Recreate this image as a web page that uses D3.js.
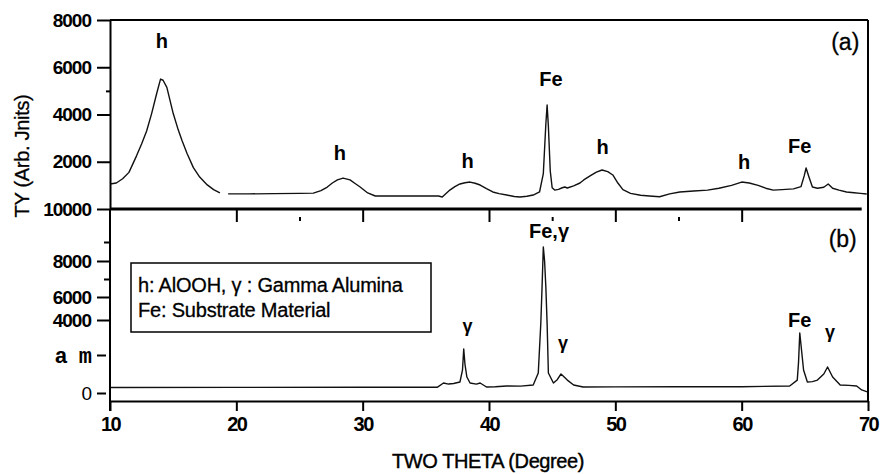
<!DOCTYPE html>
<html>
<head>
<meta charset="utf-8">
<script src="https://cdn.jsdelivr.net/npm/d3@7"></script>
<style>
  body { margin: 0; background: #fff; }
  svg { display: block; }
</style>
</head>
<body>
<svg id="chart"></svg>
<script>
// two theta (deg), intensity (arb. units)
// panel (a): first part stops at ~18.7 deg, then restarts
var topSeg1 = [[10.0,1060],[10.5,1100],[11.0,1280],[11.5,1550],[12.1,2250],[12.5,2750],[12.9,3300],[13.3,4050],
  [13.7,4900],[14.0,5500],[14.2,5450],[14.5,5150],[15.0,4050],[15.4,3350],[15.7,2900],[16.1,2350],[16.6,1750],
  [17.1,1350],[17.7,1020],[18.2,820],[18.7,680]];
var topSeg2 = [[19.35,640],[21.0,640],[23.0,650],[25.0,660],[26.1,670],[26.7,780],[27.2,930],[27.6,1100],[28.0,1230],
  [28.45,1310],[29.0,1230],[29.4,1080],[29.8,930],[30.4,680],[31.0,550],[33.0,550],[35.0,550],[36.0,550],[36.3,510],
  [36.9,800],[37.3,950],[37.7,1060],[38.1,1110],[38.5,1140],[38.9,1090],[39.3,1015],[39.8,860],[40.3,720],
  [40.8,650],[41.4,590],[42.0,530],[42.45,510],[43.0,540],[43.5,590],[44.0,720],[44.3,1500],[44.5,3600],[44.6,4400],
  [44.7,3500],[44.85,1600],[45.0,900],[45.2,800],[45.5,830],[45.8,900],[46.0,930],[46.2,890],[46.7,980],[47.2,1100],
  [47.5,1230],[48.0,1400],[48.5,1560],[48.95,1650],[49.4,1580],[49.8,1440],[50.2,1100],[50.6,820],[51.2,660],
  [52.0,580],[52.7,550],[53.5,520],[54.3,640],[55.1,720],[56.2,760],[57.3,800],[58.2,880],[59.2,1000],[60.0,1140],
  [60.6,1100],[61.3,1000],[61.9,880],[62.5,800],[63.2,820],[64.1,850],[64.7,950],[64.95,1400],[65.1,1735],
  [65.3,1400],[65.6,930],[66.0,880],[66.5,920],[66.85,1060],[67.2,880],[67.7,800],[68.3,720],[68.9,690],
  [69.4,660],[69.9,635]];
// panel (b)
var botTrace = [[10.0,290],[20.0,295],[30.0,300],[35.9,300],[36.4,525],[36.8,470],[37.2,500],[37.7,580],[37.9,1200],
  [38.0,2340],[38.1,1500],[38.25,840],[38.5,525],[39.0,470],[39.3,525],[39.8,315],[40.5,330],[41.4,370],[42.5,360],
  [43.5,420],[43.9,1050],[44.1,3800],[44.2,6560],[44.3,8740],[44.4,8000],[44.5,6560],[44.6,3800],[44.7,1050],
  [45.1,525],[45.4,700],[45.7,1000],[46.2,680],[46.7,420],[47.45,315],[50.0,320],[55.0,330],[60.0,330],[63.8,370],
  [64.4,680],[64.5,1600],[64.6,3256],[64.75,2200],[64.9,1210],[65.2,580],[65.6,600],[66.0,680],[66.5,1000],
  [66.8,1370],[67.2,840],[67.8,420],[68.5,400],[69.1,370],[69.5,160],[70.0,50]];

var xTicks = [10, 20, 30, 40, 50, 60, 70];
var topYTicks = [2000, 4000, 6000, 8000];
var botYTicks = [0, 2000, 4000, 6000, 8000, 10000];
var botYTickLabels = ["0", "a m", "4000", "6000", "8000", "10000"];

var topPeaks = [
  { t: "h", x: 14.1, v: 6815 }, { t: "h", x: 28.2, v: 2074 }, { t: "h", x: 38.3, v: 1736 },
  { t: "Fe", x: 44.9, v: 5207 }, { t: "h", x: 49.0, v: 2328 }, { t: "h", x: 60.2, v: 1693 },
  { t: "Fe", x: 64.6, v: 2370 }
];
var botPeaks = [
  { t: "Fe,\u03b3", x: 44.75, v: 9121 }, { t: "\u03b3", x: 38.3, v: 3314 }, { t: "\u03b3", x: 45.85, v: 2343 },
  { t: "Fe", x: 64.6, v: 3600 }, { t: "\u03b3", x: 67.0, v: 2970 }
];
var legendLines = ["h: AlOOH, \u03b3 : Gamma Alumina", "Fe: Substrate Material"];

var width = 882, height = 474;
var svg = d3.select("#chart").attr("width", width).attr("height", height);
svg.append("rect").attr("width", width).attr("height", height).attr("fill", "#fff");

var sans = "'Liberation Sans', Arial, sans-serif";

var x = d3.scaleLinear().domain([10, 70]).range([110, 868]);
var yTop = d3.scaleLinear().domain([0, 8000]).range([209, 20]);
// the scanned lower axis is not evenly spaced, so follow its tick positions
var yBot = d3.scaleLinear()
  .domain([0, 2000, 4000, 6000, 8000, 9000, 10000])
  .range([393, 355, 320, 297, 261, 242, 209]);
var xAxisY = 401;

var line = d3.line().x(d => x(d[0]));

// traces
svg.append("g")
  .attr("fill", "none")
  .attr("stroke", "#111")
  .attr("stroke-width", 1.4)
  .attr("stroke-linejoin", "round")
  .selectAll("path")
  .data([[topSeg1, yTop], [topSeg2, yTop], [botTrace, yBot]])
  .join("path")
  .attr("d", d => line.y(p => d[1](p[1]))(d[0]));

// frame
var frame = svg.append("g").attr("stroke", "#000").attr("fill", "none");
frame.append("line").attr("x1", x(10)).attr("x2", x(70)).attr("y1", yTop(8000)).attr("y2", yTop(8000)).attr("stroke-width", 2);
frame.append("line").attr("x1", x(70)).attr("x2", x(70)).attr("y1", yTop(8000)).attr("y2", xAxisY).attr("stroke-width", 2);
frame.append("line").attr("x1", x(10)).attr("x2", x(69.5)).attr("y1", yTop(0)).attr("y2", yTop(0)).attr("stroke-width", 3);

// x axis (bottom)
var xAxis = svg.append("g")
  .attr("transform", "translate(0," + xAxisY + ")")
  .call(d3.axisBottom(x).tickValues(xTicks).tickSize(10).tickSizeOuter(0).tickPadding(6));
xAxis.select(".domain").attr("stroke-width", 2);
xAxis.selectAll("text")
  .attr("font-family", sans).attr("font-size", 20).attr("font-weight", "bold")
  .attr("letter-spacing", -1.5).attr("fill", "#000");

// ticks on the middle line of panel (a)
var midAxis = svg.append("g")
  .attr("transform", "translate(0," + (yTop(0) + 1) + ")")
  .call(d3.axisBottom(x).tickValues([20, 30, 40, 50, 60]).tickSize(12).tickFormat(""));
midAxis.select(".domain").remove();
var midMinor = svg.append("g")
  .attr("transform", "translate(0," + (yTop(0) + 8) + ")")
  .call(d3.axisBottom(x).tickValues([25, 45, 55]).tickSize(4).tickFormat(""));
midMinor.select(".domain").remove();

// y axis panel (a)
var yAxisTop = svg.append("g")
  .attr("transform", "translate(" + x(10) + ",0)")
  .call(d3.axisLeft(yTop).tickValues(topYTicks).tickSize(13).tickPadding(6).tickSizeOuter(0)
    .tickFormat(d3.format("d")));
yAxisTop.select(".domain").attr("stroke-width", 2);
var yTopMinor = svg.append("g")
  .attr("transform", "translate(" + x(10) + ",0)")
  .call(d3.axisLeft(yTop).tickValues([5000]).tickSize(4).tickFormat(""));
yTopMinor.select(".domain").remove();

// y axis panel (b)
var yAxisBot = svg.append("g")
  .attr("transform", "translate(" + x(10) + ",0)")
  .call(d3.axisLeft(yBot).tickValues(botYTicks).tickSize(13).tickPadding(6).tickSizeOuter(0)
    .tickFormat((d, i) => botYTickLabels[i]));
yAxisBot.select(".domain").attr("d", "M0," + yTop(0) + "V" + (xAxisY + 10)).attr("stroke-width", 2);
var yBotMinor = svg.append("g")
  .attr("transform", "translate(" + x(10) + ",0)")
  .call(d3.axisLeft(yBot).tickValues([7000, 9000]).tickSize(6).tickFormat(""));
yBotMinor.select(".domain").remove();

svg.selectAll(".tick line").attr("stroke-width", 2);
[yAxisTop, yAxisBot].forEach(function (g) {
  g.selectAll("text")
    .attr("font-family", sans).attr("font-size", 19).attr("font-weight", "bold")
    .attr("letter-spacing", -1).attr("fill", "#000");
});
yAxisBot.selectAll(".tick").filter(d => d === 2000).select("text")
  .attr("font-family", "'Liberation Mono', 'DejaVu Sans Mono', monospace")
  .attr("letter-spacing", -1).attr("font-size", 22);
yAxisBot.selectAll(".tick").filter(d => d === 0).select("text").attr("font-weight", "normal");
yAxisBot.selectAll(".tick").filter(d => d <= 2000).select("line").attr("x1", -4).attr("x2", -13);

// axis titles
svg.append("text")
  .attr("x", 488).attr("y", 468)
  .attr("text-anchor", "middle")
  .attr("font-family", sans).attr("font-size", 20).attr("letter-spacing", -0.4)
  .attr("stroke", "#000").attr("stroke-width", 0.4)
  .text("TWO THETA (Degree)");
svg.append("text")
  .attr("transform", "translate(29,156) rotate(-90)")
  .attr("text-anchor", "middle")
  .attr("font-family", sans).attr("font-size", 20).attr("letter-spacing", -0.3)
  .attr("stroke", "#000").attr("stroke-width", 0.3)
  .text("TY (Arb.  Jnits)");

// peak labels
svg.append("g").selectAll("text")
  .data(topPeaks)
  .join("text")
  .attr("x", d => x(d.x)).attr("y", d => yTop(d.v))
  .attr("text-anchor", "middle")
  .attr("font-family", sans).attr("font-size", 20).attr("font-weight", "bold")
  .text(d => d.t);
svg.append("g").selectAll("text")
  .data(botPeaks)
  .join("text")
  .attr("x", d => x(d.x)).attr("y", d => yBot(d.v))
  .attr("text-anchor", "middle")
  .attr("font-family", sans)
  .attr("font-size", d => d.t === "\u03b3" ? 18 : 20)
  .attr("font-weight", "bold")
  .text(d => d.t);

// panel tags
svg.append("text").attr("x", x(68.2)).attr("y", yTop(6730))
  .attr("text-anchor", "middle").attr("font-family", sans).attr("font-size", 23)
  .attr("stroke", "#000").attr("stroke-width", 0.3)
  .text("(a)");
svg.append("text").attr("x", x(68.0)).attr("y", yBot(8737))
  .attr("text-anchor", "middle").attr("font-family", sans).attr("font-size", 23)
  .attr("stroke", "#000").attr("stroke-width", 0.3)
  .text("(b)");

// legend box
var legend = svg.append("g").attr("transform", "translate(131,263)");
legend.append("rect").attr("width", 300).attr("height", 69)
  .attr("fill", "#fff").attr("stroke", "#000").attr("stroke-width", 1.5);
legend.selectAll("text")
  .data(legendLines)
  .join("text")
  .attr("x", 7).attr("y", (d, i) => 29 + i * 25)
  .attr("font-family", sans).attr("font-size", 20).attr("letter-spacing", -0.2)
  .attr("stroke", "#000").attr("stroke-width", 0.3)
  .text(d => d);
</script>
</body>
</html>
